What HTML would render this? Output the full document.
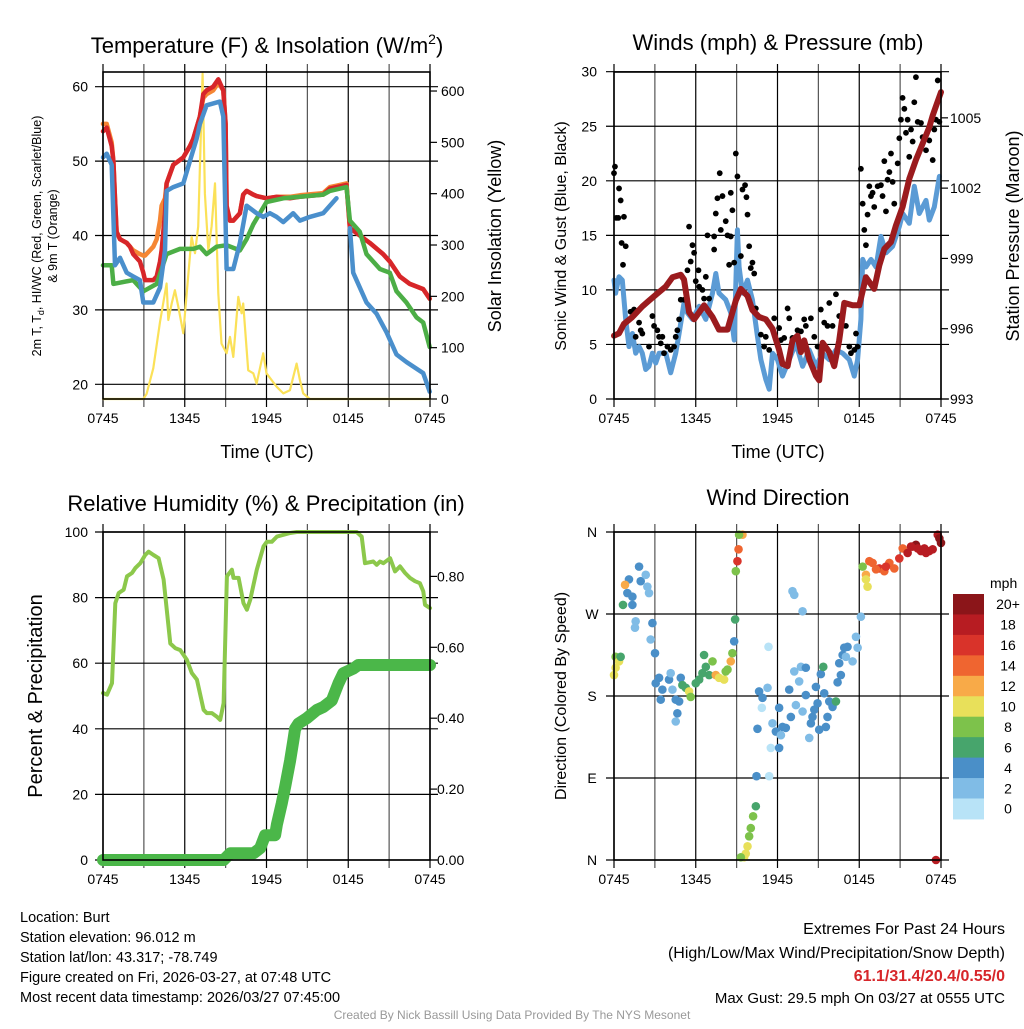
<!DOCTYPE html>
<html><head><meta charset="utf-8">
<style>
html,body{margin:0;padding:0;background:#fff;}
svg text{font-family:"Liberation Sans",Arial,sans-serif;fill:#000;}
</style></head>
<body>
<svg id="root" xmlns="http://www.w3.org/2000/svg" width="1024" height="1024" viewBox="0 0 1024 1024">
<rect width="1024" height="1024" fill="#fff"/>
<g id="grids"></g>
<g id="marks"></g>
<g id="frames"></g>
<g id="labels">
<text x="267" y="53" font-size="22" text-anchor="middle">Temperature (F) &amp; Insolation (W/m<tspan font-size="14" dy="-9">2</tspan><tspan dy="9">)</tspan></text>
<text x="778" y="50" font-size="22" text-anchor="middle">Winds (mph) &amp; Pressure (mb)</text>
<text x="266" y="511" font-size="22" text-anchor="middle">Relative Humidity (%) &amp; Precipitation (in)</text>
<text x="778" y="505" font-size="22" text-anchor="middle">Wind Direction</text>
<text x="267" y="458" font-size="18" text-anchor="middle">Time (UTC)</text>
<text x="778" y="458" font-size="18" text-anchor="middle">Time (UTC)</text>
<text transform="translate(41,236) rotate(-90)" font-size="12.5" text-anchor="middle">2m T, T<tspan font-size="9" dy="3">d</tspan><tspan dy="-3">, HI/WC (Red, Green, Scarlet/Blue)</tspan></text>
<text transform="translate(57,236) rotate(-90)" font-size="12.5" text-anchor="middle">&amp; 9m T (Orange)</text>
<text transform="translate(501,236) rotate(-90)" font-size="18" text-anchor="middle">Solar Insolation (Yellow)</text>
<text transform="translate(566,236) rotate(-90)" font-size="16" text-anchor="middle">Sonic Wind &amp; Gust (Blue, Black)</text>
<text transform="translate(1019,236) rotate(-90)" font-size="18" text-anchor="middle">Station Pressure (Maroon)</text>
<text transform="translate(42,696) rotate(-90)" font-size="20" text-anchor="middle">Percent &amp; Precipitation</text>
<text transform="translate(566,696) rotate(-90)" font-size="16" text-anchor="middle">Direction (Colored By Speed)</text>
<text x="990" y="588" font-size="14">mph</text>
<g font-size="14.5">
<text x="20" y="922">Location: Burt</text>
<text x="20" y="942">Station elevation: 96.012 m</text>
<text x="20" y="962">Station lat/lon: 43.317; -78.749</text>
<text x="20" y="982">Figure created on Fri, 2026-03-27, at 07:48 UTC</text>
<text x="20" y="1002">Most recent data timestamp: 2026/03/27 07:45:00</text>
</g>
<g font-size="16" text-anchor="end">
<text x="1005" y="934">Extremes For Past 24 Hours</text>
<text x="1005" y="958">(High/Low/Max Wind/Precipitation/Snow Depth)</text>
<text x="1005" y="981" font-weight="bold" style="fill:#d7262a">61.1/31.4/20.4/0.55/0</text>
<text x="1005" y="1003" font-size="15">Max Gust: 29.5 mph On 03/27 at 0555 UTC</text>
</g>
<text x="512" y="1019" font-size="12" text-anchor="middle" style="fill:#999">Created By Nick Bassill Using Data Provided By The NYS Mesonet</text>
</g>
</svg>
<script>
// ---------- DATA ----------
const xTickLabels = ["0745","1345","1945","0145","0745"];
const tempTicks = [20,30,40,50,60];
const solarTicks = [0,100,200,300,400,500,600];
const windTicks = [0,5,10,15,20,25,30];
const presTicks = [993,996,999,1002,1005];
const rhTicks = [0,20,40,60,80,100];
const precipTicks = [0,0.2,0.4,0.6,0.8];
const dirTicks = [0,90,180,270,360];
const dirTickLabels = ["N","E","S","W","N"];
const speedBinLabels = ["0","2","4","6","8","10","12","14","16","18","20+"];
const speedBinColors = ["#b8e3f7","#80bce6","#4a8fc8","#47a56c","#7dc24b","#e8e05a","#f8aa48","#ef6530","#d9332a","#b71c22","#8b1519"];

const tempHours = [0,0.27,0.64,0.76,0.88,1.0,1.25,1.74,1.98,2.22,2.71,2.96,3.08,3.69,3.94,4.18,4.3,4.55,4.67,5.16,5.89,6.38,6.63,7.11,7.36,7.6,8.09,8.46,8.83,9.0,9.07,9.32,9.56,10.05,10.29,10.54,11.03,11.27,12.0,12.74,13.72,14.45,16.16,16.65,17.14,17.87,18.12,18.85,19.58,20.56,21.05,21.78,22.52,23.5,23.98];
const redVals = [54,54.5,52,50,45,40.5,39.5,39,38.5,37.5,36.5,35,34,34,34.5,36.5,38,43,47,49.5,50.5,52,53,56,59,59.5,60,61,59.5,55,44,42,42,43,45.5,46,45.5,45.3,45,45.2,45,45.2,45.5,46.3,46.5,46.8,41,40,39,37.5,36.5,34.5,33.5,32.8,31.5];
const orangeVals = [55,55,52.5,50,45,40.5,39.5,39,38.5,38,37.5,37.3,37.3,38.5,39.5,42,44,45,47,49.5,50.5,52,53,56,58.5,59,59.5,60.5,59.5,55,43.5,42,42,43,45.5,46,45.5,45.3,45,45.2,45.2,45.4,45.7,46.5,46.7,47,41,40,39,37.5,36.5,34.5,33.5,32.8,31.5];
const blueHours = [0,0.27,0.64,0.88,1.25,1.74,2.22,2.71,2.96,3.69,4.18,4.55,4.67,5.16,5.89,6.38,6.87,7.11,7.6,8.58,8.83,9.07,9.56,10.05,10.54,11.27,11.76,12.25,12.74,13.23,13.96,14.45,15.18,16.16,17.14,17.6,18.12,18.36,19.34,20.07,20.81,21.54,22.27,23.5,23.98];
const blueVals = [50.5,51,49.5,36,37,35,34.5,34,31,31,33,38,46,46.5,47,50,53,55,57.5,58,56,35.5,35.5,39,44,43,42.5,43,42.5,41.8,43,42,42.5,43,45,null,41,35,31,29.5,27,24,23,21.5,19];
const greenHours = [0,0.64,0.76,2.22,2.96,3.94,4.67,5.65,6.63,7.11,7.6,8.34,9.07,10.05,10.54,11.03,12.0,13.23,14.45,16.16,16.65,17.87,18.12,18.85,19.34,20.32,21.05,21.54,22.27,23.0,23.5,23.98];
const greenVals = [36,36,33.5,34,32.5,33.5,37.5,38.2,38.2,38.5,37.5,38.5,38.7,38,39.5,41.5,44.5,45,45.2,45.5,46,46.5,42,40.5,37.5,35.5,35,32.5,31,29,28.3,25];
const solarHours = [0,2.96,3.2,3.69,4.18,4.67,4.79,5.04,5.28,5.53,5.89,6.14,6.5,6.75,6.99,7.31,7.48,7.73,7.97,8.22,8.46,8.7,9.07,9.32,9.56,9.93,10.17,10.29,10.66,11.03,11.27,11.76,12.0,12.74,13.23,13.72,14.21,14.45,14.69,15.18,24];
const solarVals = [0,0,10,60,150,225,154,186,212,180,128,206,316,284,336,634,400,290,336,420,206,108,89,121,82,199,167,186,56,50,30,89,50,24,11,17,69,37,11,0,0];

const windHours = [0,0.12,0.37,0.61,0.86,1.1,1.35,1.59,1.84,2.08,2.33,2.57,2.82,3.06,3.31,3.8,4.16,4.53,4.78,5.14,5.39,5.76,6.25,6.74,7.23,7.47,7.71,8.2,8.57,8.82,9.06,9.18,9.43,9.8,10.16,10.53,10.78,11.14,11.39,11.63,12,12.37,12.86,13.35,13.84,14.33,14.82,15.31,15.8,16.29,16.78,17.27,17.64,17.88,18.12,18.25,18.49,18.86,19.23,19.59,19.96,20.45,20.94,21.19,21.67,22.04,22.41,22.9,23.14,23.51,23.88];
const windVals = [10.9,9.7,11.2,10.9,7.3,4.8,6,4.2,4.8,4.2,2.7,3,4.2,3.3,4.2,4.2,2.4,4.2,6,8.8,7.9,7.3,8.5,7.3,9.7,11.5,9.7,9.1,7.9,5.4,15.5,12.1,9.7,10.9,9.1,5.7,3.6,1.8,0.9,4.2,3.6,2.1,3.6,5.1,3,4.5,3,4.2,3.6,4.5,4.2,3.6,2.1,3.6,7.3,12.8,12.1,12.8,12.1,14.9,13.4,14,15.8,17,16.1,19.5,17,18.2,16.4,17.6,20.4];
const presHours = [0,0.37,0.73,1.35,2.08,2.57,3.18,3.8,4.29,4.9,5.14,5.51,5.88,6.25,6.61,7.23,7.71,8.33,8.94,9.31,9.8,10.16,10.65,11.14,11.63,12.12,12.37,12.74,13.1,13.47,13.72,13.96,14.33,14.82,15.06,15.31,15.8,16.16,16.53,16.9,17.51,18,18.49,19.1,19.47,19.84,20.33,20.69,21.18,21.67,22.16,22.65,23.14,23.39,23.63,24];
const presVals = [995.7,995.8,996.2,996.5,996.95,997.2,997.5,997.8,998.2,998.3,998.1,996.7,996.4,996.7,997,996.5,995.96,995.96,997.2,997.7,997.4,996.8,996.5,996.4,996,995.1,994.5,994.4,995.5,995.7,995,995.5,994.7,994,993.8,995.4,995,994.4,995.5,997.1,997,997,998.2,997.7,998.7,999.4,999.7,1000.4,1001.2,1002.4,1003.2,1003.9,1004.6,1005.1,1005.5,1006.1];
const gustHours = [0,0.07,0.17,0.32,0.37,0.49,0.73,0.56,0.86,0.66,1.22,1.47,1.59,1.84,1.96,2.08,2.57,2.82,2.94,3.18,3.31,3.55,3.43,3.67,3.92,4.16,4.41,4.53,4.65,4.78,4.9,5.14,5.39,5.51,5.63,5.76,5.88,6.0,6.2,6.25,6.49,6.74,6.61,6.86,6.98,7.35,7.35,7.47,7.59,7.76,7.96,7.84,8.2,8.33,8.45,8.57,8.57,8.69,8.82,8.94,9.06,9.31,9.43,9.62,9.72,9.8,9.92,10.04,10.16,10.29,10.41,10.78,11.14,11.02,11.39,11.76,12.12,12.25,12.49,12.74,12.86,13.1,13.47,13.72,13.96,14.08,14.45,14.7,14.94,15.18,15.43,15.67,15.8,16.04,16.29,16.53,17.02,17.27,17.39,17.64,17.76,17.88,18.12,18.25,18.37,18.49,18.61,18.74,18.86,18.98,19.1,19.35,19.59,19.71,19.84,19.96,20.08,20.21,20.33,20.45,20.57,20.82,20.94,21.06,21.18,21.31,21.43,21.55,21.67,21.8,21.92,22.04,22.16,22.29,22.53,22.65,22.9,23.14,23.39,23.51,23.63,23.76,23.88];
const gustVals = [20.7,21.3,16.6,16.6,19.3,18.2,16.7,14.3,14,12.3,8,8.2,5.7,7,6.3,6,4.8,7.6,6.7,6.3,5.7,5.7,5.1,4.2,4.8,4.5,4.8,5.7,6.3,7.3,9.1,9.1,11.8,15.8,12.6,14.1,13.4,10.8,11.8,10.3,10,11.2,9.2,15,9.2,13.7,14.9,17,18.4,20.7,18.6,15.5,16.3,15,12.3,18.9,14.9,17.3,12.5,22.5,20.4,13.1,19.2,19.6,18.5,16.9,14,12,12.5,11.5,8.3,5.9,5.7,4.8,4.5,7.4,6.5,5.4,5.6,8.3,7.4,5.6,6.3,6.2,7.3,6.7,7.4,5.7,4.8,8.2,7,6.7,8.8,6.7,9.6,7.6,6.7,4.8,4.2,4.5,6,4.8,21.1,17.9,15.5,14.1,16.9,19.5,18.6,18.9,17.6,19.5,19.6,18.6,21.8,17.2,20.1,20.8,22.5,19.9,17.9,21.6,23.9,25.6,27.6,26.6,24.4,25.6,22.2,24.7,23.6,27.2,29.5,25.4,25.3,24,22.8,23.7,21.9,24.7,25.6,29.2,25.4];

const rhHours = [0,0.29,0.66,0.9,1.15,1.52,1.76,2.13,2.37,2.74,3.1,3.35,3.71,4.08,4.45,4.94,5.3,5.67,6.16,6.52,6.89,7.38,7.62,7.99,8.36,8.6,8.85,9.09,9.46,9.58,9.95,10.31,10.56,10.8,11.29,11.78,12.02,12.39,12.76,13.74,14.22,18.62,18.99,19.23,19.84,20.09,20.33,20.58,21.07,21.43,21.8,22.17,22.53,22.9,23.26,23.51,23.63,24];
const rhVals = [50.9,50.4,53.9,78.3,81.4,82.4,86.5,87.5,89,90.5,93,94,93,92,85.5,66,64.6,64,61,57,55,45.8,44.8,44.8,43.7,42.7,47.8,86.5,88.5,86,86,78.3,76.3,79.3,88.5,95.6,97,97,98.6,99.7,100,100,98.6,90.5,91,90,91,90.5,92,88,89.5,87.5,86,85,84.4,81.9,77.8,76.8];
const precipHours = [0,8.85,9.34,11.05,11.53,11.9,12.63,12.76,13.12,13.37,13.73,13.98,14.1,14.35,14.96,15.69,16.18,16.79,17.28,17.64,18.38,18.74,24];
const precipVals = [0,0,0.019,0.019,0.033,0.07,0.07,0.1,0.16,0.207,0.28,0.34,0.37,0.385,0.4,0.423,0.432,0.45,0.498,0.527,0.54,0.55,0.55];

const dirHours = [1.84,1.96,1.1,0.81,2.33,2.45,2.57,0.98,1.35,1.35,0.66,1.59,1.54,2.82,2.69,3.01,0.12,0.37,0,0.12,0.49,
3.31,3.06,3.55,4.04,4.16,4.29,4.9,5.02,5.27,5.51,5.63,4.53,4.78,3.43,4.65,4.53,6.0,6.25,6.49,6.74,6.61,7.23,6.98,7.47,7.71,8.08,8.33,8.2,8.57,8.69,8.82,8.89,8.94,9.06,9.14,9.43,9.18,
10.41,10.21,10.04,9.92,9.8,9.67,9.55,9.31,10.46,11.39,
11.34,13.1,13.23,13.84,10.65,10.9,11.27,10.85,10.53,11.51,12.12,11.63,11.88,12.25,12.37,12.61,12.12,12.98,12.86,13.23,13.59,13.72,14.08,13.35,13.84,14.08,14.33,14.57,14.45,14.7,14.94,15.06,14.82,15.18,15.36,15.43,15.55,15.67,15.8,16.04,16.29,16.41,16.65,16.53,16.78,17.02,17.14,16.9,17.51,17.76,17.88,18.12,
18.25,18.49,18.61,18.98,19.47,19.84,20.21,20.57,20.94,21.19,21.55,21.92,22.16,22.53,22.78,23.14,23.39,23.76,23.88,24,23.63,18.74,19.23,19.96,21.8,22.29,22.9,18.49];
const dirDegs = [322,306,308,302,313,300,293,293,289,280,280,262,255,260,242,227,223,218,203,211,223,
200,194,187,198,205,187,200,192,189,185,179,176,174,176,161,152,194,198,205,212,225,218,203,203,200,198,209,207,218,227,240,264,317,328,341,357,357,
59,48,35,26,15,7,3,3,92,92,
234,295,291,273,185,178,189,167,144,123,123,150,141,137,146,145,167,157,187,207,196,212,211,170,163,181,134,157,150,165,172,143,190,204,212,183,146,157,174,168,174,195,203,216,225,223,234,233,218,245,233,267,
322,313,300,326,320,317,326,320,331,342,337,344,346,339,342,339,341,357,353,348,0,328,319,322,344,342,337,308];
const dirSpeeds = [4,4,4,12,2,2,2,4,4,4,6,2,2,4,2,4,8,10,10,10,6,
4,4,4,4,2,2,4,6,6,10,8,4,4,4,4,2,6,6,6,6,6,8,6,12,10,10,8,8,12,8,4,6,8,16,14,12,8,
6,8,8,8,10,10,10,8,4,0,
0,2,2,2,4,4,2,0,4,0,4,2,4,2,4,4,4,4,4,2,2,2,4,2,2,4,2,4,4,4,4,4,4,4,6,4,4,4,4,4,6,4,4,4,4,2,4,4,2,2,2,2,
8,12,10,14,16,14,14,14,16,14,18,18,20,18,18,18,18,18,20,20,18,14,14,16,18,18,18,10];

// ---------- SCALES ----------
const HSPAN = 24, PW = 327;
const P1 = {x0:103, y0:72, y1:399}, P2 = {x0:614, y0:72, y1:399}, P3 = {x0:103, y0:532, y1:860}, P4 = {x0:614, y0:532, y1:860};
function xL(h){ return 103 + h*PW/HSPAN; }
function xR(h){ return 614 + h*PW/HSPAN; }
function tempY(v){ return 384.3 - (v-20)*7.44; }
function solarY(v){ return 399 - v*0.5133; }
function windY(v){ return 399 - v*10.91; }
function presY(p){ return 399 - (p-993)*23.43; }
function rhY(v){ return 860 - v*3.28; }
function prY(v){ return 860 - v*354.5; }
function dirY(d){ return 860 - d*328/360; }

const NS = "http://www.w3.org/2000/svg";
const grids = document.getElementById("grids");
const marks = document.getElementById("marks");
const frames = document.getElementById("frames");
const labelsG = document.getElementById("labels");
function el(tag, attrs, parent){
  const e = document.createElementNS(NS, tag);
  for (const k in attrs) e.setAttribute(k, attrs[k]);
  parent.appendChild(e);
  return e;
}
function pathFrom(hours, vals, xf, yf){
  let d = "", pen = false;
  for (let i=0;i<hours.length;i++){
    if (vals[i]===null){ pen=false; continue; }
    d += (pen?"L":"M") + xf(hours[i]).toFixed(1) + "," + yf(vals[i]).toFixed(1);
    pen = true;
  }
  return d;
}

// ---------- PANEL FRAMES / GRIDS ----------
function panel(P, xf, hTicks, yfun, name){
  const x0 = xf(0), x1 = xf(24);
  for (let h=0; h<=24; h+=3){
    const g = el("line",{x1:xf(h),x2:xf(h),y1:P.y0-8,y2:P.y1+8,stroke:(h%6===0)?"#000":"#555","stroke-width":1.2},grids);
    
    
  }
  hTicks.forEach(v=>{
    const y = yfun(v);
    const g = el("line",{x1:x0-8,x2:x1+8,y1:y,y2:y,stroke:"#000","stroke-width":1.2},grids);
    
    
  });
  const f = el("rect",{x:x0,y:P.y0,width:x1-x0,height:P.y1-P.y0,fill:"none",stroke:"#000","stroke-width":1.6},frames);
  
  
  xTickLabels.forEach((t,i)=>{
    const tx = el("text",{x:xf(i*6),y:P.y1+24,"font-size":14,"text-anchor":"middle"},labelsG);
    tx.textContent = t;
    
    
  });
}
function yLabels(ticks, yfun, x, anchor, fmt, name){
  ticks.forEach(v=>{
    const t = el("text",{x:x,y:yfun(v)+5,"font-size":14,"text-anchor":anchor},labelsG);
    t.textContent = fmt(v);
    
    
  });
}
function rightTicks(ticks, yfun, x, name){
  ticks.forEach(v=>{
    const t = el("line",{x1:x,x2:x+7,y1:yfun(v),y2:yfun(v),stroke:"#000","stroke-width":1.2},frames);
    
    
  });
}
panel(P1, xL, tempTicks, tempY, "temp");
panel(P2, xR, windTicks, windY, "wind");
panel(P3, xL, rhTicks, rhY, "rh");
panel(P4, xR, dirTicks, dirY, "dir");
yLabels(tempTicks, tempY, 88, "end", v=>v, "temp-y-tick-label");
yLabels(solarTicks, solarY, 441, "start", v=>v, "solar-y-tick-label");
rightTicks(solarTicks, solarY, 430, "solar-tick");
yLabels(windTicks, windY, 597, "end", v=>v, "wind-y-tick-label");
yLabels(presTicks, presY, 950, "start", v=>v, "pressure-y-tick-label");
rightTicks(presTicks, presY, 941, "pressure-tick");
yLabels(rhTicks, rhY, 88, "end", v=>v, "rh-y-tick-label");
yLabels(precipTicks, prY, 437, "start", v=>v.toFixed(2), "precip-y-tick-label");
rightTicks(precipTicks, prY, 430, "precip-tick");
dirTicks.forEach((v,i)=>{
  const t = el("text",{x:592,y:dirY(v)+5,"font-size":14,"text-anchor":"middle"},labelsG);
  t.textContent = dirTickLabels[i];
  
  
});

// ---------- SERIES ----------
function line(hours, vals, xf, yf, color, w, name){
  const p = el("path",{d:pathFrom(hours,vals,xf,yf),fill:"none",stroke:color,"stroke-width":w,"stroke-linejoin":"round","stroke-linecap":"round"},marks);
  
  
}
line(solarHours, solarVals, xL, solarY, "#fbe158", 2.2, "solar-insolation-line");
line(tempHours, orangeVals, xL, tempY, "#f58634", 4.5, "temp-9m-line");
line(tempHours, redVals, xL, tempY, "#d7262a", 4.5, "temp-2m-line");
line(greenHours, greenVals, xL, tempY, "#4cae46", 4.5, "heat-index-wind-chill-line");
line(blueHours, blueVals, xL, tempY, "#4a8fcc", 4.5, "dewpoint-line");

line(windHours, windVals, xR, windY, "#5b9bd5", 5, "sonic-wind-line");
gustHours.forEach((h,i)=>{
  const c = el("circle",{cx:xR(h),cy:windY(gustVals[i]),r:2.9,fill:"#000"},marks);
  
  
});
line(presHours, presVals, xR, presY, "#9b1b1e", 6, "pressure-line");

line(rhHours, rhVals, xL, rhY, "#8cc84b", 4, "relative-humidity-line");
line(precipHours, precipVals, xL, prY, "#4bb749", 12, "precipitation-line");

dirHours.forEach((h,i)=>{
  const bin = Math.min(10, Math.floor(dirSpeeds[i]/2));
  const c = el("circle",{cx:xR(h),cy:dirY(dirDegs[i]),r:4.3,fill:speedBinColors[bin]},marks);
  
  
});

// ---------- COLORBAR ----------
const cbTop = 594, cbH = 20.45;
for (let i=0;i<speedBinColors.length;i++){
  const idx = speedBinColors.length-1-i;
  const r = el("rect",{x:953,y:cbTop+i*cbH,width:31,height:cbH+0.5,fill:speedBinColors[idx]},frames);
  
  
  const t = el("text",{x:1008,y:cbTop+i*cbH+cbH/2+5,"font-size":14,"text-anchor":"middle"},labelsG);
  t.textContent = speedBinLabels[idx];
  
  
}
</script>
</body></html>
